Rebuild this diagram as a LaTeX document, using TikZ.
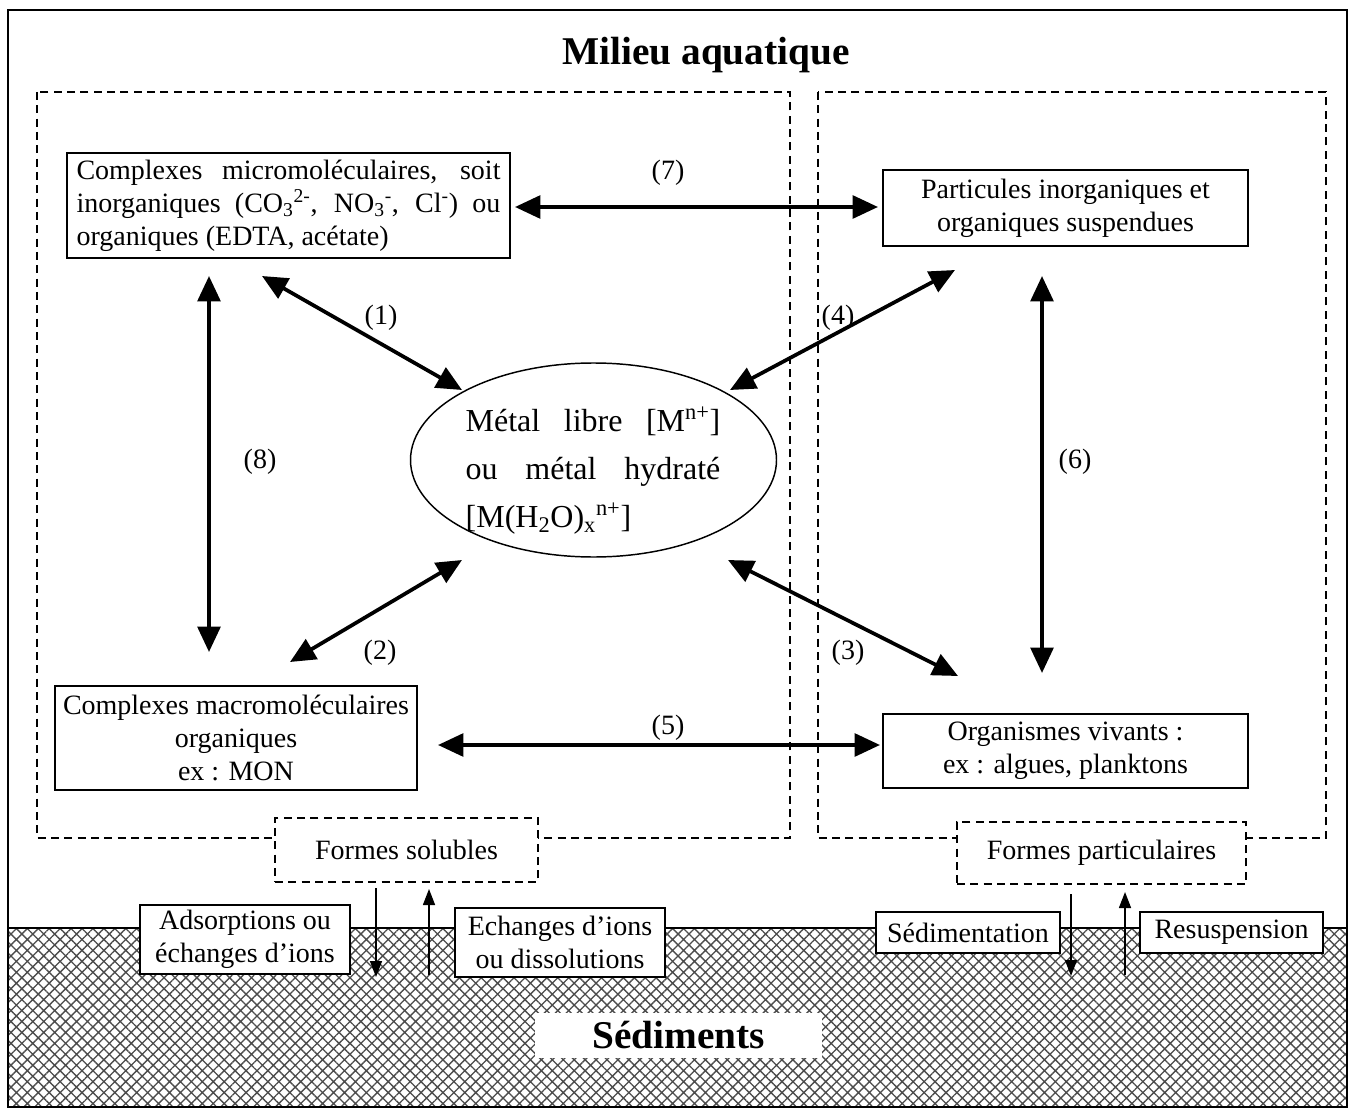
\documentclass[tikz,border=0pt]{standalone}
\usepackage{fontspec}
\setmainfont{Liberation Serif}
\usetikzlibrary{arrows.meta,patterns.meta,shapes.geometric}
\begin{document}
\begin{tikzpicture}[x=0.75pt,y=-0.75pt,
  every node/.style={font=\fontsize{21}{24.75}\selectfont},
  box/.style={draw,line width=1.1pt,fill=white,align=center,inner sep=0pt},
  dbox/.style={draw,line width=1pt,dash pattern=on 6pt off 4pt,fill=white,inner sep=0pt},
  dregion/.style={draw,line width=1pt,dash pattern=on 6pt off 4pt},
  big/.style={line width=2.8pt,{Triangle[length=19pt,width=17pt]}-{Triangle[length=19pt,width=17pt]}},
  thinarrow/.style={line width=1.1pt,-{Triangle[length=12pt,width=9pt]}},
  lab/.style={inner sep=0pt},
  titlefont/.style={font=\fontsize{29.5}{34}\selectfont\bfseries}
]
\useasboundingbox (0,0) rectangle (1356,1109);
\fill[white] (0,0) rectangle (1356,1109);
% sediments
\path[pattern={Hatch[angle=45,distance=5.8pt,line width=1pt]},pattern color=black!70] (8,928) rectangle (1347,1107);
\draw[line width=1.1pt] (8,928) -- (1347,928);
\draw[line width=1.3pt] (8,10) rectangle (1347,1107);

% dashed regions
\path[dregion] (37,92) rectangle (790,838);
\path[dregion] (818,92) rectangle (1326,838);

\node[titlefont] (ttl) at (706,55) {Milieu aquatique};

% boxes
\node[box,minimum width=332.25pt,minimum height=78.75pt,text width=318pt,align=justify] (tl) at (288.5,205.5)
 {Complexes micromoléculaires, soit\linebreak{}inorganiques (CO\textsubscript{3}\textsuperscript{2-}, NO\textsubscript{3}\textsuperscript{-}, Cl\textsuperscript{-}) ou\linebreak{}organiques (EDTA, acétate)};
\node[box,minimum width=273.75pt,minimum height=57pt] (part) at (1065.5,208)
 {Particules inorganiques et\\organiques suspendues};
\node[box,minimum width=271.5pt,minimum height=78pt] (macro) at (236,738)
 {Complexes macromoléculaires\\organiques\\ex : MON};
\node[box,minimum width=273.75pt,minimum height=55.5pt] (org) at (1065.5,751)
 {Organismes vivants :\\ex : algues, planktons};

\node[draw,ellipse,line width=1.1pt,minimum width=274.5pt,minimum height=145.5pt,inner sep=0pt] (M) at (593.5,460) {};
\node[text width=191pt,align=justify,inner sep=0pt,font=\fontsize{24}{36}\selectfont] (Mt) at (593,471)
 {Métal libre [M\textsuperscript{n+}]\linebreak{}ou métal hydraté\linebreak{}[M(H\textsubscript{2}O)\textsubscript{x}\textsuperscript{n+}]};

\node[dbox,minimum width=197.25pt,minimum height=48pt] (sol) at (406.5,850) {Formes solubles};
\node[dbox,minimum width=216.75pt,minimum height=46.5pt] (pt) at (1101.5,853) {Formes particulaires};

\node[box,minimum width=157.5pt,minimum height=51.75pt] (ads) at (245,939.5) {Adsorptions ou\\échanges d’ions};
\node[box,minimum width=157.5pt,minimum height=51.75pt] (ech) at (560,942.5) {Echanges d’ions\\ou dissolutions};
\node[box,minimum width=138pt,minimum height=30.75pt] (sedi) at (968,932.5) {Sédimentation};
\node[box,minimum width=137.25pt,minimum height=30.75pt] (resu) at (1231.5,932.5) {Resuspension};

\node[titlefont,fill=white,minimum width=215.25pt,minimum height=33.75pt,inner sep=0pt] (sed) at (678.5,1035.5) {Sédiments};

% arrow end points
\coordinate (a7l) at (515,207); \coordinate (a7r) at (878,207);
\coordinate (a1a) at (262,276); \coordinate (a1b) at (462,390);
\coordinate (a4a) at (955,270); \coordinate (a4b) at (730,390);
\coordinate (a8a) at (209,276); \coordinate (a8b) at (209,652);
\coordinate (a6a) at (1042,276); \coordinate (a6b) at (1042,673);
\coordinate (a2a) at (290,662); \coordinate (a2b) at (462,560);
\coordinate (a3a) at (728,560); \coordinate (a3b) at (958,676);
\coordinate (a5a) at (438,745); \coordinate (a5b) at (880,745);

\draw[big] (a7l) -- (a7r);
\draw[big] (a1a) -- (a1b);
\draw[big] (a4a) -- (a4b);
\draw[big] (a8a) -- (a8b);
\draw[big] (a6a) -- (a6b);
\draw[big] (a2a) -- (a2b);
\draw[big] (a3a) -- (a3b);
\draw[big] (a5a) -- (a5b);

\node[lab] (l7) at (668,173) {(7)};
\node[lab] (l1) at (381,318) {(1)};
\node[lab] (l4) at (838,318) {(4)};
\node[lab] (l8) at (260,462) {(8)};
\node[lab] (l6) at (1075,462) {(6)};
\node[lab] (l2) at (380,653) {(2)};
\node[lab] (l3) at (848,653) {(3)};
\node[lab] (l5) at (668,728) {(5)};

% thin arrows
\coordinate (s1a) at (376,888); \coordinate (s1b) at (376,977);
\coordinate (s2a) at (429,975); \coordinate (s2b) at (429,889);
\coordinate (p1a) at (1071,894); \coordinate (p1b) at (1071,976);
\coordinate (p2a) at (1125,975); \coordinate (p2b) at (1125,892);
\draw[thinarrow] (s1a) -- (s1b);
\draw[thinarrow] (s2a) -- (s2b);
\draw[thinarrow] (p1a) -- (p1b);
\draw[thinarrow] (p2a) -- (p2b);
\end{tikzpicture}
\end{document}
